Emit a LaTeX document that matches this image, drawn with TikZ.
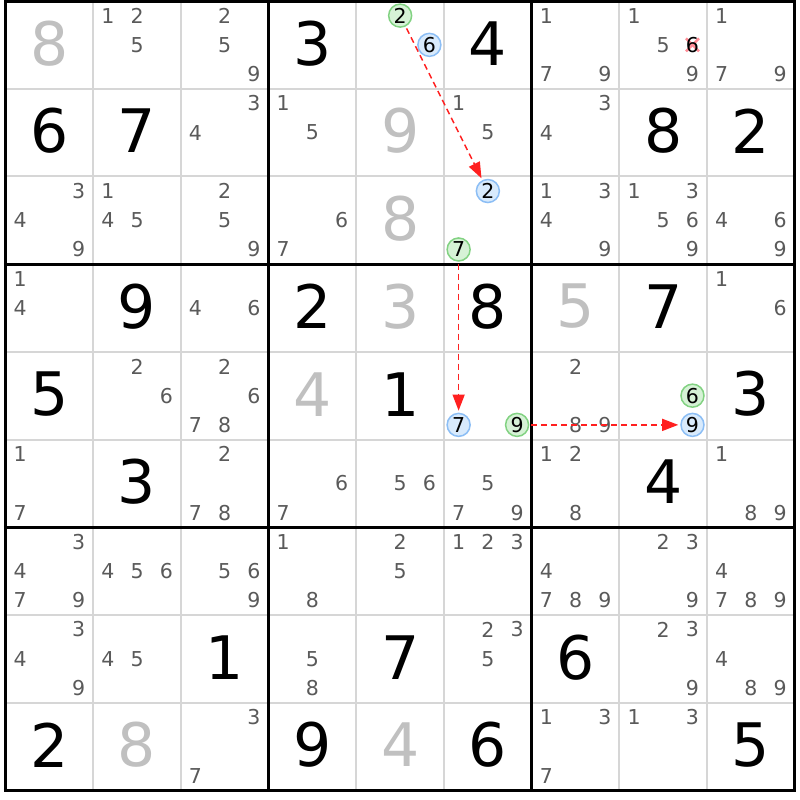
\documentclass[tikz,border=0pt]{standalone}
\usepackage{fontspec}
\setmainfont{DejaVu Sans}
\usetikzlibrary{arrows.meta}
\definecolor{candgray}{RGB}{90,90,90}
\definecolor{solvedgray}{RGB}{192,192,192}
\definecolor{thingrid}{RGB}{214,214,214}
\definecolor{greenfill}{RGB}{214,242,214}
\definecolor{greenline}{RGB}{130,210,130}
\definecolor{bluefill}{RGB}{216,234,252}
\definecolor{blueline}{RGB}{140,190,245}
\definecolor{linkred}{RGB}{255,32,32}
\definecolor{xpink}{RGB}{255,140,150}
\newcommand\sksetpos[3]{%
  \pgfmathsetmacro\px{5.5+(#2-1)*87.7+14.617+mod(#3-1,3)*29.233}%
  \pgfmathsetmacro\py{1+(#1-1)*87.7+14.617+int((#3-1)/3)*29.233}}
\tikzset{
  given/.style={inner sep=0pt, text=black, font=\fontsize{60}{60}\selectfont},
  solved/.style={given, text=solvedgray},
  cand/.style={inner sep=0pt, text=candgray, font=\fontsize{20.5}{20.5}\selectfont},
  gcirc/.style={circle, minimum size=23pt, inner sep=0pt, draw=greenline, fill=greenfill, line width=1.5pt, text=black, font=\fontsize{20.5}{20.5}\selectfont},
  bcirc/.style={gcirc, draw=blueline, fill=bluefill},
  thinline/.style={thingrid, line width=2pt},
  thickline/.style={black, line width=3.2pt},
  linkarrow/.style={linkred, line width=1.4pt, dash pattern=on 6pt off 4pt, -{Triangle[length=16pt,width=12pt]}, shorten <=2pt, shorten >=2pt},
  xmark/.style={xpink, line width=2.5pt}
}
\begin{document}
\begin{tikzpicture}[x=1pt,y=-1pt]
\useasboundingbox (0,0) rectangle (800,800);
\fill[white] (0,0) rectangle (800,800);
% thin grid lines
\foreach \i in {1,2,4,5,7,8}{
  \draw[thinline] ({5.5+\i*87.7},1) -- ({5.5+\i*87.7},790.3);
  \draw[thinline] (5.5,{1+\i*87.7}) -- (794.8,{1+\i*87.7});
}
% thick grid lines
\foreach \i in {0,3,6,9}{
  \draw[thickline] ({5.5+\i*87.7},-0.6) -- ({5.5+\i*87.7},791.9);
  \draw[thickline] (3.9,{1+\i*87.7}) -- (796.4,{1+\i*87.7});
}
% given digits
\foreach \r/\c/\d in {1/4/3,1/6/4,2/1/6,2/2/7,2/8/8,2/9/2,4/2/9,4/4/2,4/6/8,4/8/7,5/1/5,5/5/1,5/9/3,6/2/3,6/8/4,8/3/1,8/5/7,8/7/6,9/1/2,9/4/9,9/6/6,9/9/5}{
  \node[given] (g-\r-\c) at ({5.5+(\c-0.5)*87.7},{1+(\r-0.5)*87.7-1.5}) {\d};
}
% solved digits
\foreach \r/\c/\d in {1/1/8,2/5/9,3/5/8,4/5/3,4/7/5,5/4/4,9/2/8,9/5/4}{
  \node[solved] (s-\r-\c) at ({5.5+(\c-0.5)*87.7},{1+(\r-0.5)*87.7-1.5}) {\d};
}
% candidates
\foreach \r/\c/\L in {1/2/{1,2,5},1/3/{2,5,9},1/7/{1,7,9},1/8/{1,5,9},1/9/{1,7,9},
  2/3/{3,4},2/4/{1,5},2/6/{1,5},2/7/{3,4},
  3/1/{3,4,9},3/2/{1,4,5},3/3/{2,5,9},3/4/{6,7},3/7/{1,3,4,9},3/8/{1,3,5,6,9},3/9/{4,6,9},
  4/1/{1,4},4/3/{4,6},4/9/{1,6},
  5/2/{2,6},5/3/{2,6,7,8},5/7/{2,8,9},
  6/1/{1,7},6/3/{2,7,8},6/4/{6,7},6/5/{5,6},6/6/{5,7,9},6/7/{1,2,8},6/9/{1,8,9},
  7/1/{3,4,7,9},7/2/{4,5,6},7/3/{5,6,9},7/4/{1,8},7/5/{2,5},7/6/{1,2,3},7/7/{4,7,8,9},7/8/{2,3,9},7/9/{4,7,8,9},
  8/1/{3,4,9},8/2/{4,5},8/4/{5,8},8/6/{2,3,5},8/8/{2,3,9},8/9/{4,8,9},
  9/3/{3,7},9/7/{1,3,7},9/8/{1,3}}{
  \foreach \d in \L {
    \sksetpos{\r}{\c}{\d}
    \node[cand] (k-\r-\c-\d) at (\px,\py) {\d};
  }
}
% eliminated candidate
\sksetpos{1}{8}{6}
\draw[xmark] (\px-6.5,\py-6.5) -- (\px+6.5,\py+6.5);
\draw[xmark] (\px-6.5,\py+6.5) -- (\px+6.5,\py-6.5);
\node[cand, text=black] (x-1-8-6) at (\px,\py) {6};
% highlighted candidates
\sksetpos{1}{5}{2}\node[gcirc] (a1) at (\px,\py) {2};
\sksetpos{1}{5}{6}\node[bcirc] (a2) at (\px,\py) {6};
\sksetpos{3}{6}{2}\node[bcirc] (b1) at (\px,\py) {2};
\sksetpos{3}{6}{7}\node[gcirc] (b2) at (\px,\py) {7};
\sksetpos{5}{6}{7}\node[bcirc] (c1) at (\px,\py) {7};
\sksetpos{5}{6}{9}\node[gcirc] (c2) at (\px,\py) {9};
\sksetpos{5}{8}{6}\node[gcirc] (d1) at (\px,\py) {6};
\sksetpos{5}{8}{9}\node[bcirc] (d2) at (\px,\py) {9};
% links
\draw[linkarrow] (a1) -- (b1);
\draw[linkarrow] (b2) -- (c1);
\draw[linkarrow] (c2) -- (d2);
\end{tikzpicture}
\end{document}
